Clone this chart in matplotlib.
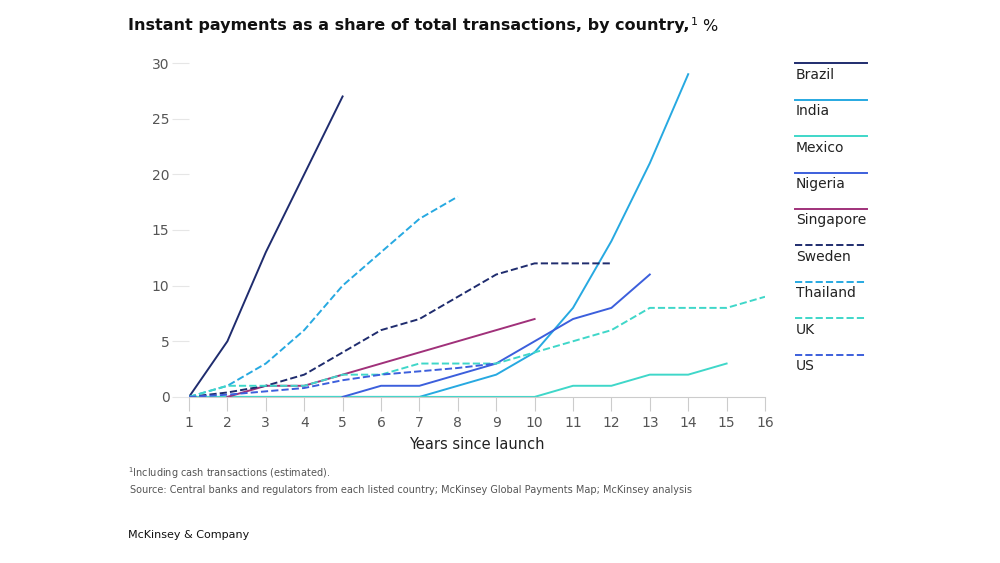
import numpy as np
import matplotlib.pyplot as plt

countries = ['Brazil', 'India', 'Mexico', 'Nigeria', 'Singapore', 'Sweden', 'Thailand', 'UK', 'US']
colors = ['#1f2c6e', '#27a9e1', '#3fd7c9', '#3c5fdc', '#a0317a', '#1f2c6e', '#27a9e1', '#3fd7c9', '#3c5fdc']
styles = ['-', '-', '-', '-', '-', '--', '--', '--', '--']

brazil_x = [1, 2, 3, 4, 5]
brazil_y = [0, 5, 13, 20, 27]
india_x = [1, 7, 8, 9, 10, 11, 12, 13, 14]
india_y = [0, 0, 1, 2, 4, 8, 14, 21, 29]
mexico_x = [1, 10, 11, 12, 13, 14, 15]
mexico_y = [0, 0, 1, 1, 2, 2, 3]
nigeria_x = [5, 6, 7, 8, 9, 10, 11, 12, 13]
nigeria_y = [0, 1, 1, 2, 3, 5, 7, 8, 11]
singapore_x = [2, 3, 4, 5, 6, 7, 8, 9, 10]
singapore_y = [0, 1, 1, 2, 3, 4, 5, 6, 7]
sweden_x = [1, 2, 3, 4, 5, 6, 7, 8, 9, 10, 11, 12]
sweden_y = [0, 0.4, 1, 2, 4, 6, 7, 9, 11, 12, 12, 12]
thailand_x = [1, 2, 3, 4, 5, 6, 7, 8]
thailand_y = [0, 1, 3, 6, 10, 13, 16, 18]
uk_x = list(range(1, 17))
uk_y = [0, 1, 1, 1, 2, 2, 3, 3, 3, 4, 5, 6, 8, 8, 8, 9]
us_x = [1, 2, 3, 4, 5, 6, 7, 8, 9]
us_y = [0, 0.2, 0.5, 0.8, 1.5, 2, 2.3, 2.6, 3]

series = [(brazil_x, brazil_y), (india_x, india_y), (mexico_x, mexico_y),
          (nigeria_x, nigeria_y), (singapore_x, singapore_y), (sweden_x, sweden_y),
          (thailand_x, thailand_y), (uk_x, uk_y), (us_x, us_y)]

fig = plt.figure(figsize=(10, 5.63), dpi=100)
ax = fig.add_axes([0.189, 0.295, 0.576, 0.593])

for (x, y), c, ls in zip(series, colors, styles):
    ax.plot(x, y, color=c, linestyle=ls, linewidth=1.4)

ax.set_xlim(1, 16)
ax.set_ylim(0, 30)
ax.set_xticks(range(1, 17))
ax.set_yticks(range(0, 31, 5))
for s in ['top', 'right', 'left']:
    ax.spines[s].set_visible(False)
ax.spines['bottom'].set_color('#cccccc')
ax.tick_params(axis='x', length=10, color='#cccccc', labelsize=10, labelcolor='#555555')
ax.tick_params(axis='y', length=12, color='#e6e6e6', labelsize=10, labelcolor='#555555', pad=2)
ax.set_xlabel('Years since launch', fontsize=10.5, color='#222222', labelpad=5)

# legend on the right: line over label
for i, (name, c, ls) in enumerate(zip(countries, colors, styles)):
    y = 0.888 - i * 0.0648
    fig.add_artist(plt.Line2D([0.795, 0.867], [y, y], color=c, linestyle=ls, linewidth=1.4))
    fig.text(0.796, y - 0.008, name, fontsize=10, color='#222222', va='top')

title = fig.text(0.128, 0.955, 'Instant payments as a share of total transactions, by country,',
                 fontsize=11.5, fontweight='bold', color='#111111', va='center')
fig.canvas.draw()
bb = title.get_window_extent().transformed(fig.transFigure.inverted())
fig.text(bb.x1 + 0.001, 0.955, '$^1$ %', fontsize=11.5, color='#111111', va='center')

fig.text(0.128, 0.152, '$^1$Including cash transactions (estimated).', fontsize=7, color='#555555')
fig.text(0.130, 0.125, 'Source: Central banks and regulators from each listed country; McKinsey Global Payments Map; McKinsey analysis',
         fontsize=7, color='#555555')
fig.text(0.128, 0.045, 'McKinsey & Company', fontsize=8, color='#111111')

fig.savefig('out.png', dpi=100, facecolor='white')
